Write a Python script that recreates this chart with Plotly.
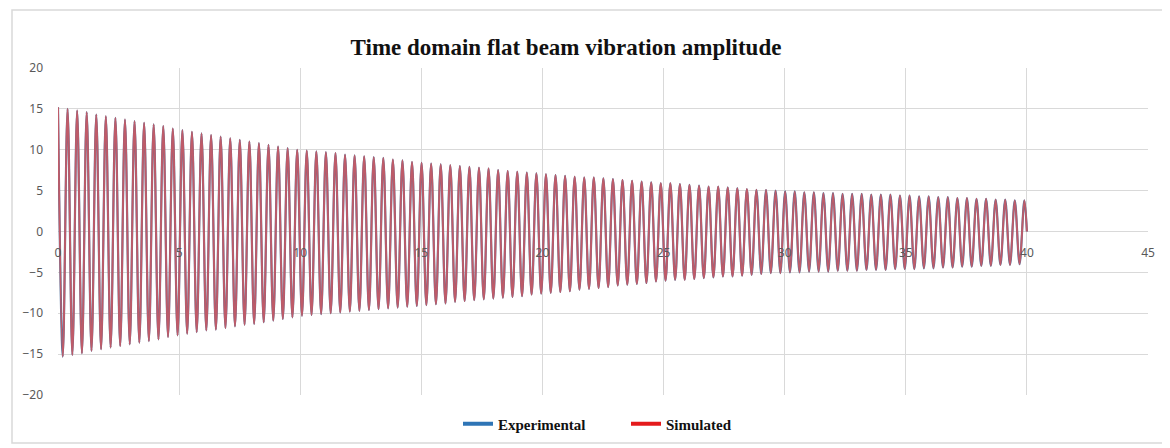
import plotly.graph_objects as go

# ---- data ----
title_text = "Time domain flat beam vibration amplitude"
series_names = ["Experimental", "Simulated"]
series_colors = ["#2e75b6", "#e41a1c"]
x_ticks = [0, 5, 10, 15, 20, 25, 30, 35, 40, 45]
y_ticks = [-20, -15, -10, -5, 0, 5, 10, 15, 20]

# spacing (s) between successive crest and trough
extremum_spacing_s = 0.1975
end_time_s = 40.0
end_value = 0.0

# crest values (starting at t = 0), read peak by peak
crest_values = [
    15.2, 15.0, 14.8, 14.6, 14.3, 14.1, 13.9, 13.7, 13.5, 13.3,
    13.1, 12.9, 12.6, 12.4, 12.2, 12.0, 11.8, 11.6, 11.4, 11.2,
    11.0, 10.8, 10.6, 10.4, 10.2, 10.0, 9.9, 9.8, 9.7, 9.6,
    9.4, 9.3, 9.2, 9.1, 9.0, 8.8, 8.7, 8.5, 8.4, 8.3,
    8.2, 8.1, 8.0, 7.9, 7.8, 7.7, 7.5, 7.4, 7.3, 7.2,
    7.1, 7.0, 6.9, 6.8, 6.7, 6.6, 6.6, 6.5, 6.4, 6.3,
    6.2, 6.1, 6.0, 5.9, 5.9, 5.8, 5.7, 5.6, 5.5, 5.5,
    5.4, 5.3, 5.2, 5.1, 5.1, 5.0, 4.9, 4.9, 4.8, 4.8,
    4.7, 4.7, 4.6, 4.6, 4.6, 4.5, 4.5, 4.5, 4.4, 4.4,
    4.3, 4.3, 4.2, 4.2, 4.1, 4.1, 4.0, 4.0, 3.9, 3.9,
    3.8, 3.8,
]

# trough values (between the crests), read trough by trough
trough_values = [
    -15.3, -15.1, -14.9, -14.6, -14.4, -14.2, -14.0, -13.8, -13.6, -13.4,
    -13.2, -12.9, -12.7, -12.5, -12.3, -12.1, -12.0, -11.8, -11.6, -11.4,
    -11.3, -11.1, -10.9, -10.7, -10.5, -10.3, -10.2, -10.1, -10.0, -9.9,
    -9.8, -9.7, -9.6, -9.5, -9.4, -9.3, -9.2, -9.1, -9.0, -8.9,
    -8.8, -8.6, -8.5, -8.4, -8.3, -8.2, -8.1, -8.0, -7.9, -7.7,
    -7.6, -7.5, -7.4, -7.3, -7.1, -7.0, -6.9, -6.8, -6.6, -6.5,
    -6.4, -6.3, -6.1, -6.0, -5.9, -5.9, -5.8, -5.7, -5.6, -5.5,
    -5.5, -5.4, -5.3, -5.2, -5.1, -5.1, -5.0, -5.0, -4.9, -4.9,
    -4.9, -4.8, -4.8, -4.8, -4.7, -4.7, -4.7, -4.6, -4.6, -4.6,
    -4.5, -4.5, -4.4, -4.4, -4.3, -4.3, -4.2, -4.2, -4.1, -4.1,
    -4.0,
]

# interleave crests and troughs into one sampled series
values = []
for i in range(len(crest_values)):
    values.append(crest_values[i])
    if i < len(trough_values):
        values.append(trough_values[i])
times = [round(i * extremum_spacing_s, 4) for i in range(len(values))]
times.append(end_time_s)
values.append(end_value)

fig = go.Figure()
# data traces (overlapping; red drawn over blue)
fig.add_trace(go.Scatter(
    x=times, y=values, name=series_names[0], mode="lines", showlegend=False,
    legendgroup="exp",
    line=dict(color="#55739c", width=2.2, shape="spline", smoothing=1.0),
))
fig.add_trace(go.Scatter(
    x=times, y=values, name=series_names[1], mode="lines", showlegend=False,
    legendgroup="sim", opacity=0.88,
    line=dict(color="rgb(205,88,98)", width=1.9, shape="spline", smoothing=1.0),
))
# legend entries
for nm, col, grp in zip(series_names, series_colors, ["exp", "sim"]):
    fig.add_trace(go.Scatter(
        x=[None], y=[None], name="<b>" + nm + "</b>", mode="lines",
        legendgroup=grp, line=dict(color=col, width=4),
    ))

# page body has an 8px margin, so the figure is offset by 8px
OFF = 8
W, H = 1170 - OFF, 448 - OFF
L, R, T, B = 58 - OFF, 22, 68 - OFF, 53
pw, ph = W - L - R, H - T - B

def px2paper_x(px):
    return (px - OFF - L) / pw

def px2paper_y(py):
    return (H - B - (py - OFF)) / ph

fig.add_shape(type="rect", xref="paper", yref="paper",
              x0=px2paper_x(12), x1=px2paper_x(1167),
              y0=px2paper_y(443), y1=px2paper_y(10),
              line=dict(color="#d9d9d9", width=1.5), layer="below")

fig.update_layout(
    width=W, height=H,
    margin=dict(l=L, r=R, t=T, b=B, autoexpand=False),
    paper_bgcolor="white", plot_bgcolor="white",
    title=dict(text="<b>" + title_text + "</b>",
               x=(566 - OFF) / W, xanchor="center",
               y=1 - (47 - OFF) / H, yanchor="middle",
               font=dict(family="Liberation Serif", size=23, color="#111111")),
    showlegend=True,
    legend=dict(orientation="h", x=px2paper_x(458), xanchor="left",
                y=px2paper_y(424), yanchor="middle",
                font=dict(family="Liberation Serif", size=15, color="#111111"),
                bgcolor="rgba(0,0,0,0)", entrywidth=123, entrywidthmode="pixels",
                traceorder="normal"),
    xaxis=dict(range=[0, 45], tickvals=x_ticks, anchor="free", position=0.5,
               showgrid=True, gridcolor="#d9d9d9", gridwidth=1,
               zeroline=False, showline=False, ticks="", automargin=False,
               ticklabelstandoff=12,
               tickfont=dict(family="Noto Sans", size=12, color="#595959")),
    yaxis=dict(range=[-20, 20], tickvals=y_ticks,
               showgrid=True, gridcolor="#d9d9d9", gridwidth=1,
               zeroline=False, showline=False, ticks="", automargin=False,
               ticklabelstandoff=14,
               tickfont=dict(family="Noto Sans", size=12, color="#595959")),
)

fig.write_html("out.html")
